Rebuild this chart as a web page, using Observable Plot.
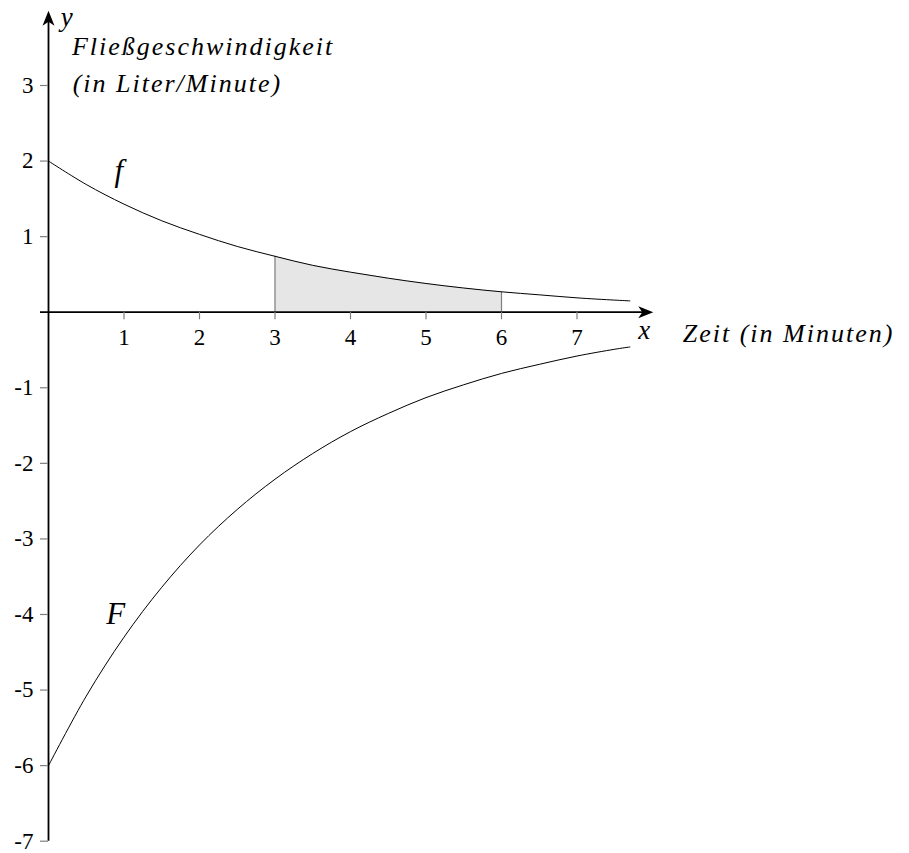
<!DOCTYPE html>
<html>
<head>
<meta charset="utf-8">
<script src="https://cdn.jsdelivr.net/npm/d3@7"></script>
<script src="https://cdn.jsdelivr.net/npm/@observablehq/plot@0.6"></script>
<style>
  html, body { margin: 0; padding: 0; background: #fff; }
  #chart svg { display: block; }
</style>
</head>
<body>
<div id="chart"></div>
<script>
// Values
const xs   = [0, 0.5, 1, 1.5, 2, 2.5, 3, 3.5, 4, 4.5, 5, 5.5, 6, 6.5, 7, 7.5, 7.7];
const fVal = [2.00, 1.69, 1.43, 1.21, 1.03, 0.87, 0.74, 0.62, 0.53, 0.45, 0.38, 0.32, 0.27, 0.23, 0.19, 0.16, 0.15];
const FVal = [-6.00, -5.08, -4.30, -3.64, -3.08, -2.61, -2.21, -1.87, -1.58, -1.34, -1.13, -0.96, -0.81, -0.69, -0.58, -0.49, -0.46];
const shadeFrom = 3, shadeTo = 6;
const xTicks = [1, 2, 3, 4, 5, 6, 7];
const yTicks = [3, 2, 1, -1, -2, -3, -4, -5, -6, -7];
const xAxisExtent = [-0.106, 8.01];
const yAxisExtent = [-7, 3.99];
const curveLabels = [
  {x: 0.93, y: 1.73, text: "f"},
  {x: 0.89, y: -4.12, text: "F"}
];
const axisLetters = [
  {x: 0.24, y: 3.79, text: "y"},
  {x: 7.89, y: -0.36, text: "x"}
];
const axisTitles = [
  {x: 8.40, y: -0.39, text: "Zeit (in Minuten)"},
  {x: 0.31, y: 3.397, text: "Fließgeschwindigkeit"},
  {x: 0.32, y: 2.908, text: "(in Liter/Minute)"}
];

const rows = xs.map((x, i) => ({x, f: fVal[i], F: FVal[i]}));
const shaded = rows.filter(d => d.x >= shadeFrom && d.x <= shadeTo);
const bounds = shaded.filter(d => d.x === shadeFrom || d.x === shadeTo);

// stealth-like filled arrowhead, tip at origin pointing up
const stealth = {
  draw(ctx) {
    ctx.moveTo(0, 0);
    ctx.lineTo(6, 15);
    ctx.lineTo(0, 11);
    ctx.lineTo(-6, 15);
    ctx.closePath();
  }
};

const arrows = [
  {x: xAxisExtent[1], y: 0, rotate: 90},
  {x: 0, y: yAxisExtent[1], rotate: 0}
];

const curve = "catmull-rom";
const font = "Liberation Serif";
const tickGray = "#7f7f7f";

const chart = Plot.plot({
  width: 909,
  height: 853,
  margin: 0,
  x: {type: "linear", domain: [0, 7], range: [48, 576.5], axis: null},
  y: {type: "linear", domain: [3, -7], range: [85, 840.7], axis: null},
  style: {background: "white", color: "black"},
  marks: [
    Plot.areaY(shaded, {x: "x", y1: 0, y2: "f", fill: "#e6e6e6", curve}),
    Plot.ruleX(bounds, {x: "x", y1: 0, y2: "f", stroke: tickGray, strokeWidth: 1.2}),
    Plot.ruleY([0], {x1: xAxisExtent[0], x2: xAxisExtent[1] - 0.12, stroke: "black", strokeWidth: 1.8}),
    Plot.ruleX([0], {y1: yAxisExtent[0], y2: yAxisExtent[1] - 0.12, stroke: "black", strokeWidth: 1.8}),
    Plot.ruleX(xTicks, {x: d => d, y1: 0, y2: -0.1, stroke: tickGray, strokeWidth: 1.2}),
    Plot.ruleY(yTicks, {y: d => d, x1: -0.106, x2: 0, stroke: tickGray, strokeWidth: 1.2}),
    Plot.line(rows, {x: "x", y: "f", stroke: "black", strokeWidth: 1, curve}),
    Plot.line(rows, {x: "x", y: "F", stroke: "black", strokeWidth: 1, curve}),
    Plot.dot(arrows, {x: "x", y: "y", rotate: "rotate", symbol: stealth, r: 6, fill: "black", stroke: null}),
    Plot.text(xTicks, {x: d => d, y: 0, dy: 33, lineAnchor: "bottom", text: d => String(d), fontFamily: font, fontSize: 23}),
    Plot.text(yTicks, {x: 0, y: d => d, dx: -15, textAnchor: "end", lineAnchor: "middle", text: d => String(d), fontFamily: font, fontSize: 23}),
    Plot.text(curveLabels, {x: "x", y: "y", text: "text", lineAnchor: "bottom", fontFamily: font, fontStyle: "italic", fontSize: 31}),
    Plot.text(axisLetters, {x: "x", y: "y", text: "text", lineAnchor: "bottom", fontFamily: font, fontStyle: "italic", fontSize: 27}),
    Plot.text(axisTitles, {x: "x", y: "y", text: "text", textAnchor: "start", lineAnchor: "bottom", fontFamily: font, fontStyle: "italic", fontSize: 26})
  ]
});

// make the serif face stick: drop Plot's class/font defaults, style every text inline
chart.removeAttribute("class");
chart.setAttribute("font-family", font);
chart.style.setProperty("font-family", `"${font}"`);
d3.select(chart).selectAll("text").each(function() {
  this.setAttribute("style", `font-family: "${font}"` + (this.textContent.length > 3 ? "; letter-spacing: 2px" : ""));
});
document.getElementById("chart").appendChild(chart);
</script>
</body>
</html>
